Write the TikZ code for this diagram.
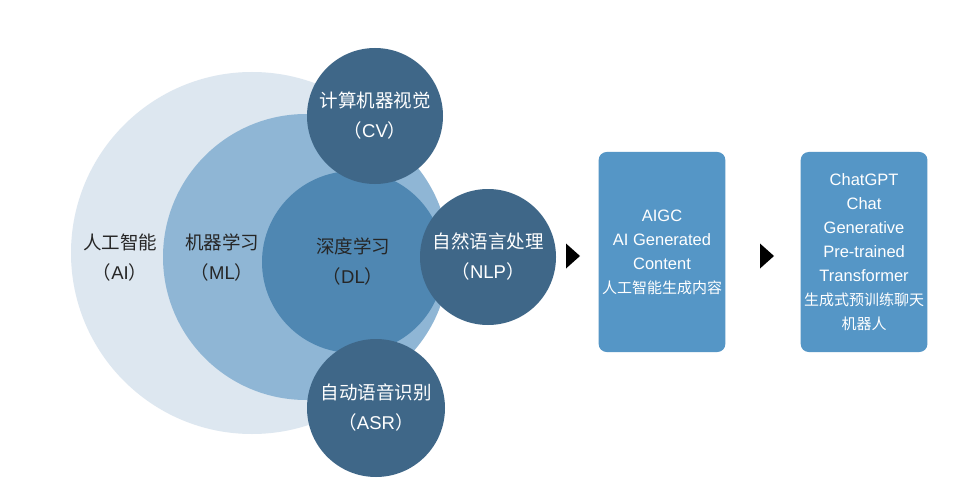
\documentclass[tikz,border=0pt]{standalone}
\usepackage{fontspec}
\setmainfont{Liberation Sans}
\newfontfamily\cjk{Noto Sans CJK SC}
\usepackage{xcolor}
\usetikzlibrary{positioning}

\newcommand{\zh}[1]{{\cjk #1}}
\newcommand{\zhs}[1]{{\cjk\fontsize{15}{24}\selectfont #1}}
\newcommand{\abbr}[1]{\zh{（}#1\zh{）}}

\definecolor{aiblue}{HTML}{DDE7F0}
\definecolor{mlblue}{HTML}{8FB6D5}
\definecolor{dlblue}{HTML}{4F87B2}
\definecolor{subblue}{HTML}{3F6788}
\definecolor{boxblue}{HTML}{5596C6}
\definecolor{inktext}{HTML}{262626}

\tikzset{
    field/.style={circle, inner sep=0pt, align=center, text=inktext,
        font=\fontsize{18.5}{30}\selectfont},
    branch/.style={field, fill=subblue, text=white},
    stage/.style={rectangle, rounded corners=8pt, fill=boxblue, text=white,
        minimum width=125pt, minimum height=200pt, align=center,
        font=\fontsize{16.5}{24}\selectfont},
    pointer/.style={fill=black}
}

\begin{document}
\begin{tikzpicture}[x=1pt, y=-1pt]
    \fill[white] (0,0) rectangle (969,500);
    \useasboundingbox (0,0) rectangle (969,500);

    % nested fields
    \node[field, fill=aiblue, minimum size=362pt] (ai) at (252,253) {};
    \node[field, fill=mlblue, minimum size=286pt] (ml) at (306,257) {};
    \node[field, fill=dlblue, minimum size=182pt] (dl) at (353,262) {\zh{深度学习}\\\abbr{DL}};
    \node[field] (ailabel) at (120,258) {\zh{人工智能}\\\abbr{AI}};
    \node[field] (mllabel) at (222,258) {\zh{机器学习}\\\abbr{ML}};

    % application areas
    \node[branch, minimum size=136pt] (cv) at (375,116) {\zh{计算机器视觉}\\\abbr{CV}};
    \node[branch, minimum size=136pt] (nlp) at (488,257) {\zh{自然语言处理}\\\abbr{NLP}};
    \node[branch, minimum size=138pt] (asr) at (376,408) {\zh{自动语音识别}\\\abbr{ASR}};

    % outcomes
    \node[stage] (aigc) at (662,252) {AIGC\\AI Generated\\Content\\\zhs{人工智能生成内容}};
    \node[stage, right=75pt of aigc] (chatgpt) {ChatGPT\\Chat\\Generative\\Pre-trained\\Transformer\\\zhs{生成式预训练聊天}\\\zhs{机器人}};

    \coordinate (tri1) at (573,256);
    \coordinate (tri2) at (767,256);
    \fill[pointer] (tri1) ++(-7,-12.5) -- ++(14,12.5) -- ++(-14,12.5) -- cycle;
    \fill[pointer] (tri2) ++(-7,-12.5) -- ++(14,12.5) -- ++(-14,12.5) -- cycle;
\end{tikzpicture}
\end{document}
